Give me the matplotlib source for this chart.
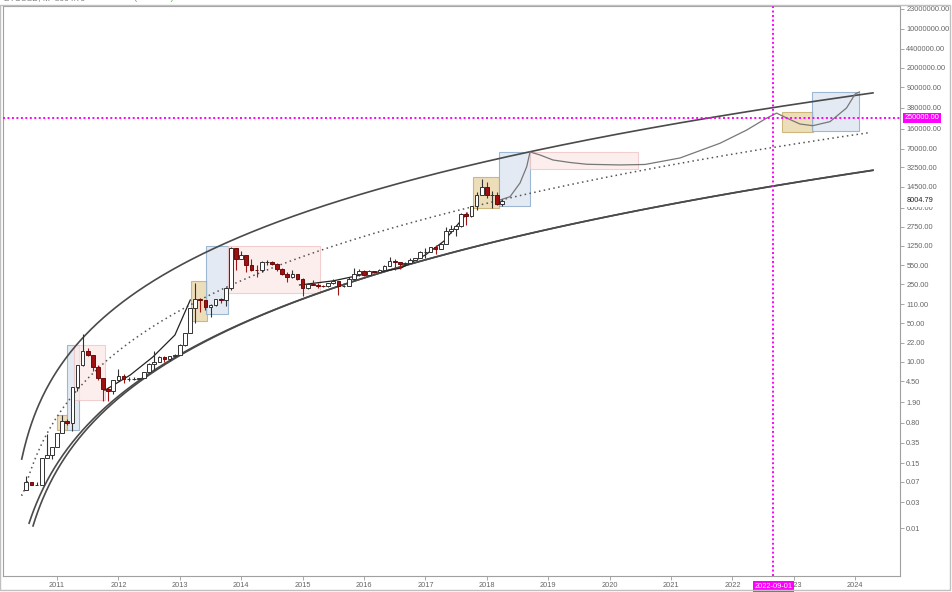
import matplotlib
matplotlib.use("Agg")
import matplotlib.pyplot as plt
import matplotlib.transforms as mtransforms
from matplotlib.patches import Rectangle
import numpy as np

plt.rcParams['font.family'] = ['Liberation Sans', 'DejaVu Sans']

# monthly candles, first one is 2010-07
start_year, start_month = 2010, 7
opens = [0.05, 0.07, 0.06, 0.06, 0.19, 0.21, 0.30, 0.52, 0.86, 0.78, 3.50, 8.74,
         16.1, 13.35, 8.19, 5.14, 3.25, 3.0, 4.72, 5.5, 4.86, 4.9, 4.95, 5.2,
         6.6, 9.35, 10.2, 12.4, 11.2, 12.6, 13.5, 20.4, 33.4, 93, 139, 129,
         97, 106, 135, 133, 211, 1129, 732, 832, 565, 457, 447, 628,
         640, 585, 480, 386, 338, 378, 318, 218, 254, 244, 236, 230,
         263, 284, 230, 236, 314, 378, 430, 368, 437, 416, 448, 531,
         673, 624, 575, 608, 700, 742, 964, 970, 1190, 1080, 1350, 2300,
         2480, 2875, 4700, 4340, 6450, 10000, 14150, 10200, 10300, 6930]
highs = [0.09, 0.07, 0.07, 0.19, 0.50, 0.30, 0.50, 1.10, 0.95, 3.50, 8.90, 31.9,
         17.5, 13.5, 8.9, 5.2, 3.6, 4.8, 7.4, 6.2, 5.4, 5.3, 5.2, 6.7,
         9.6, 16.0, 12.7, 12.9, 12.9, 13.8, 20.7, 33.4, 95, 266, 141, 129,
         111, 130, 143, 220, 1165, 1150, 1000, 840, 720, 550, 650, 680,
         650, 600, 500, 420, 460, 385, 320, 265, 300, 260, 245, 268,
         318, 287, 245, 335, 500, 468, 463, 445, 440, 468, 555, 780,
         705, 628, 630, 740, 760, 980, 1150, 1200, 1290, 1420, 2760, 2980,
         2900, 4740, 5000, 6470, 11400, 19800, 17200, 11800, 11700, 8500]
lows = [0.05, 0.06, 0.06, 0.06, 0.19, 0.18, 0.29, 0.52, 0.72, 0.56, 3.00, 8.40,
        12.6, 7.0, 4.8, 2.0, 2.0, 2.7, 4.6, 4.2, 4.6, 4.8, 4.9, 5.1,
        6.5, 7.1, 9.8, 10.1, 10.5, 12.3, 13.2, 19.1, 33, 50, 80, 88,
        65, 100, 114, 100, 200, 455, 735, 420, 440, 340, 420, 555,
        565, 440, 370, 275, 320, 300, 152, 210, 240, 215, 225, 220,
        253, 162, 225, 235, 300, 350, 352, 366, 395, 413, 437, 530,
        460, 470, 572, 605, 690, 740, 750, 940, 890, 1070, 1350, 2100,
        1830, 2700, 2970, 4110, 5500, 10900, 9000, 6000, 6600, 6500]
closes = [0.07, 0.06, 0.062, 0.19, 0.21, 0.30, 0.52, 0.86, 0.78, 3.50, 8.74, 16.1,
          13.35, 8.19, 5.14, 3.25, 3.0, 4.72, 5.5, 4.86, 4.9, 4.95, 5.2, 6.6,
          9.35, 10.2, 12.4, 11.2, 12.6, 13.5, 20.4, 33.4, 93, 139, 129, 97,
          106, 135, 133, 211, 1129, 732, 832, 565, 457, 447, 628, 640,
          585, 480, 386, 338, 378, 318, 218, 254, 244, 236, 230, 263,
          284, 230, 236, 314, 378, 430, 368, 437, 416, 448, 531, 673,
          624, 575, 608, 700, 742, 964, 970, 1190, 1080, 1350, 2300, 2480,
          2875, 4700, 4340, 6450, 10000, 14150, 10200, 10300, 6930, 8004.79]

# points read along the regression bands (year, price)
upper_years = [2010.425, 2010.723, 2011.158, 2011.70, 2012.515, 2013.818, 2016.912,
               2018.704, 2021.798, 2024.29]
upper_prices = [0.171, 2.3, 9.5, 57, 344, 1280, 19000, 60000, 282000, 741000]
lower_years = [2010.609, 2011.163, 2011.70, 2012.238, 2012.792, 2013.329, 2014.958,
               2017.889, 2024.29]
lower_prices = [0.0106, 0.294, 0.90, 2.76, 9.6, 24.9, 142, 1180, 28800]
lower2_years = [2010.545, 2011.10, 2011.70, 2012.238, 2012.792, 2013.329, 2014.958,
                2017.889, 2024.29]
lower2_prices = [0.0115, 0.33, 0.95, 2.85, 9.8, 25.5, 145, 1200, 29000]
middle_years = [2010.414, 2010.674, 2010.886, 2011.261, 2011.70, 2012.515, 2013.818,
                2015.772, 2017.678, 2020.658, 2024.241]
middle_prices = [0.040, 0.211, 0.548, 3.13, 10, 42.7, 206, 1280, 5050, 32700, 158000]

# projection path drawn after the last candle
proj_years = [2018.215, 2018.378, 2018.541, 2018.650, 2018.704, 2018.866, 2019.078,
              2019.355, 2019.632, 2020.169, 2020.576, 2021.147, 2021.798, 2022.233,
              2022.55, 2022.72, 2022.884, 2023.10, 2023.31, 2023.59, 2023.86,
              2024.00, 2024.07]
proj_prices = [8300, 9500, 16800, 33000, 60800, 53700, 43600, 39300, 36500, 35500,
               36200, 47400, 87300, 151000, 245000, 305000, 249000, 194000, 181000,
               214000, 378000, 675000, 733000]

# older curves hugging the candles
fit_a_years = [2011.78, 2012.19, 2012.56, 2012.92, 2013.17]
fit_a_prices = [3.1, 5.8, 12.3, 30.6, 131]
fit_b_years = [2014.95, 2015.5, 2016.0, 2016.6, 2017.0, 2017.3, 2017.68]
fit_b_prices = [244, 290, 380, 490, 850, 1500, 4800]

# boxes: (kind, x0, x1, low, high)
boxes = [
    ('tan', 2011.00, 2011.16, 0.60, 1.11),
    ('blue', 2011.17, 2011.36, 0.60, 20.2),
    ('pink', 2011.27, 2011.78, 2.07, 20.2),
    ('tan', 2013.18, 2013.44, 54.8, 288),
    ('blue', 2013.43, 2013.78, 72, 1230),
    ('pink', 2013.78, 2015.29, 173, 1230),
    ('tan', 2017.78, 2018.20, 6030, 21300),
    ('blue', 2018.20, 2018.70, 6550, 61500),
    ('pink', 2018.70, 2020.47, 29600, 60000),
    ('tan', 2022.80, 2023.31, 142000, 324000),
    ('blue', 2023.30, 2024.06, 147000, 723000),
]
box_style = {
    'tan': dict(fc='#ead9ae', ec='#c9ac6a', alpha=0.85),
    'blue': dict(fc='#dfe7f2', ec='#8eaccb', alpha=0.85),
    'pink': dict(fc='#fdeaea', ec='#efc4c4', alpha=0.8),
}

y_ticks = [23000000, 10000000, 4400000, 2000000, 900000, 380000, 160000, 70000,
           32500, 14500, 6000, 2750, 1250, 550, 250, 110, 50, 22, 10, 4.5, 1.9,
           0.8, 0.35, 0.15, 0.07, 0.03, 0.01]
x_years = list(range(2011, 2025))
h_level = 250000
v_date = 2022 + 8 / 12
v_label = '2022-09-01'
last_price = 8004.79

magenta = '#ff00ff'


def fit_band(years, prices):
    # smooth log-regression style curve through the points
    years = np.asarray(years, dtype=float)
    lp = np.log10(prices)
    best = None
    for t0 in np.linspace(years[0] - 1.5, years[0] - 0.01, 200):
        u = np.log10(years - t0)
        c = np.polyfit(u, lp, 2)
        err = np.sum((np.polyval(c, u) - lp) ** 2)
        if best is None or err < best[0]:
            best = (err, t0, c)
    _, t0, c = best
    t = np.linspace(years[0], years[-1], 700)
    return t, 10 ** np.polyval(c, np.log10(t - t0))


fig = plt.figure(figsize=(9.53, 5.92), dpi=100)
ax = fig.add_axes([3 / 953, 16 / 592, 897 / 953, 570 / 592])
ax.set_yscale('log')
ax.set_xlim(2010.12, 2024.73)
ax.set_ylim(10 ** -2.856, 10 ** 7.414)

# boxes
for kind, x0, x1, lo, hi in boxes:
    ax.add_patch(Rectangle((x0, lo), x1 - x0, hi - lo, lw=0.8, zorder=1, **box_style[kind]))

# bands
for yrs, prs in [(upper_years, upper_prices), (lower_years, lower_prices),
                 (lower2_years, lower2_prices)]:
    t, y = fit_band(yrs, prs)
    ax.plot(t, y, color='#4a4a4a', lw=1.2, zorder=3)
t, y = fit_band(middle_years, middle_prices)
ax.plot(t, y, color='#555555', lw=1.1, ls=(0, (1, 2.2)), zorder=3)

ax.plot(proj_years, proj_prices, color='#777777', lw=0.9, zorder=3)
ax.plot(fit_a_years, fit_a_prices, color='#222222', lw=0.9, zorder=3)
ax.plot(fit_b_years, fit_b_prices, color='#222222', lw=0.9, zorder=3)

# candles
xs = np.array([start_year + (start_month - 1 + i) / 12 for i in range(len(opens))])
for x, o, h, l, c in zip(xs, opens, highs, lows, closes):
    up = c >= o
    col = '#333333' if up else '#a31515'
    ax.vlines(x, l, h, color=col, lw=0.8, zorder=4)
    ax.bar(x, abs(c - o), bottom=min(o, c), width=0.06,
           color='white' if up else '#a01010',
           edgecolor='#333333' if up else '#6e0a0a', lw=0.7, zorder=5)

# magenta cross lines
ax.axhline(h_level, color=magenta, lw=1.4, ls=(0, (1, 1.3)), zorder=6)
ax.axvline(v_date, color=magenta, lw=1.4, ls=(0, (1, 1.3)), zorder=6)

# axes styling
ax.yaxis.tick_right()
ax.set_yticks(y_ticks)
ax.set_yticklabels(['%.2f' % v for v in y_ticks])
ax.yaxis.set_minor_locator(matplotlib.ticker.NullLocator())
ax.set_xticks(x_years)
ax.set_xticklabels([str(y) for y in x_years])
ax.tick_params(axis='both', labelsize=5.3, colors='#999999', labelcolor='#666666',
               length=3, width=0.6, pad=1.5)
for s in ax.spines.values():
    s.set_color('#a0a0a0')
    s.set_linewidth(0.8)

ytrans = mtransforms.blended_transform_factory(ax.transAxes, ax.transData)
ax.text(1.007, last_price, '%.2f' % last_price, transform=ytrans, fontsize=5.3,
        color='#222222', va='center', ha='left', zorder=10,
        bbox=dict(fc='white', ec='none', pad=2.2))
ax.text(1.005, h_level, '%.2f' % h_level, transform=ytrans, fontsize=5.3,
        color='white', va='center', ha='left', zorder=10,
        bbox=dict(fc=magenta, ec='none', pad=1.2))
xtrans = mtransforms.blended_transform_factory(ax.transData, ax.transAxes)
ax.text(v_date, -0.012, v_label, transform=xtrans, fontsize=5.3, color='white',
        va='top', ha='center', zorder=10, clip_on=False,
        bbox=dict(fc=magenta, ec='none', pad=1.2))

# outer frame and cut-off header
fig.add_artist(Rectangle((0.0005, 2 / 592), 950 / 953, 585 / 592, transform=fig.transFigure,
                         fill=False, ec='#c0c0c0', lw=1.0))
fig.text(0.004, 1.003, 'BTCUSD, M  8004.79', fontsize=6, color='#777777', va='center')
fig.text(0.095, 1.003, '\u25b2 1076.29 (+15.53%)  O:6928.50  H:8500.00  L:6500.00  C:8004.79',
         fontsize=6, color='#3bb33b', va='center')

fig.savefig('out.png', dpi=100)
